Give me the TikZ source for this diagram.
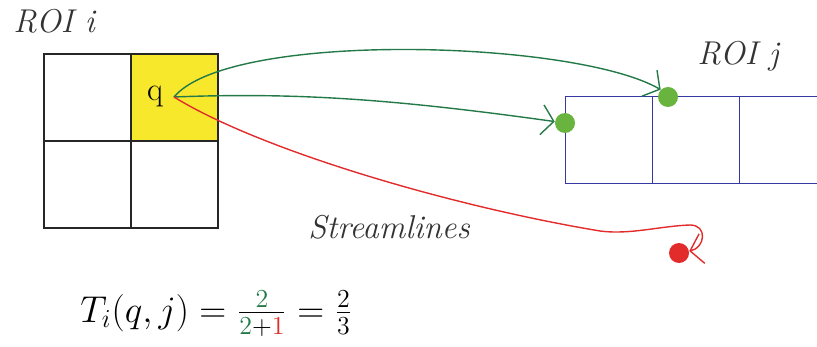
\documentclass[tikz,border=0pt]{standalone}
\usepackage{amsmath, amssymb}
\usepackage{tikz}
\usetikzlibrary{arrows.meta}

\definecolor{streamgreen}{RGB}{35,122,72}
\definecolor{dotgreen}{RGB}{104,180,62}
\definecolor{streamred}{RGB}{226,44,44}
\definecolor{roiblue}{RGB}{52,56,160}
\definecolor{cellyellow}{RGB}{248,232,44}

\begin{document}
\begin{tikzpicture}[x=0.5pt, y=-0.5pt,
    cell/.style={draw=black!85, line width=0.8pt, minimum size=43.5pt, inner sep=0pt, anchor=north west},
    jcell/.style={cell, draw=roiblue, line width=0.7pt},
    dot/.style={circle, inner sep=0pt, minimum size=10pt},
    stream/.style={line width=0.7pt, -{Straight Barb[length=6pt, width=15pt]}},
    rotulo/.style={font=\fontsize{16.5}{19}\selectfont\itshape, anchor=base west, inner sep=0pt, text=black!80}]
        \useasboundingbox (0,0) rectangle (817,347);
        \clip (0,0) rectangle (817,347);

        % ROI i
        \node[cell] (i11) at (43,53) {};
        \node[cell, fill=cellyellow] (i12) at (130,53) {};
        \node[cell] (i21) at (43,140) {};
        \node[cell] (i22) at (130,140) {};
        \node[font=\fontsize{16.5}{19}\selectfont, inner sep=0pt] (q) at (155,96) {q};
        \coordinate (qp) at (174,97);

        % ROI j
        \node[jcell] (j1) at (565,96) {};
        \node[jcell] (j2) at (652,96) {};
        \node[jcell] (j3) at (739,96) {};

        % pontos finais
        \node[dot, fill=dotgreen] (d1) at (565,123) {};
        \node[dot, fill=dotgreen] (d2) at (668,97) {};
        \node[dot, fill=streamred] (d3) at (679,253) {};

        % streamlines
        \draw[stream, streamgreen] (qp) .. controls (230,30) and (575,40) .. (d2.135);
        \draw[stream, streamgreen] (qp) .. controls (300,92) and (400,100) .. (d1);
        \draw[stream, streamred] (qp) .. controls (260,150) and (450,206) .. (600,231)
            .. controls (630,235) and (660,226) .. (690,225)
            .. controls (708,225) and (705,248) .. (d3);

        % textos
        \node[rotulo] (roii) at (13,33) {ROI i};
        \node[rotulo] (roij) at (697,65) {ROI j};
        \node[rotulo] (legenda) at (308,238) {Streamlines};
        \node[font=\fontsize{17.28}{20}\selectfont, anchor=base west, inner sep=0pt] (eq) at (80,322)
            {\scalebox{1.08}{$T_i(q,j) = \frac{\textcolor{streamgreen}{2}}{\textcolor{streamgreen}{2}+\textcolor{streamred}{1}} = \frac{2}{3}$}};
    \end{tikzpicture}
\end{document}
